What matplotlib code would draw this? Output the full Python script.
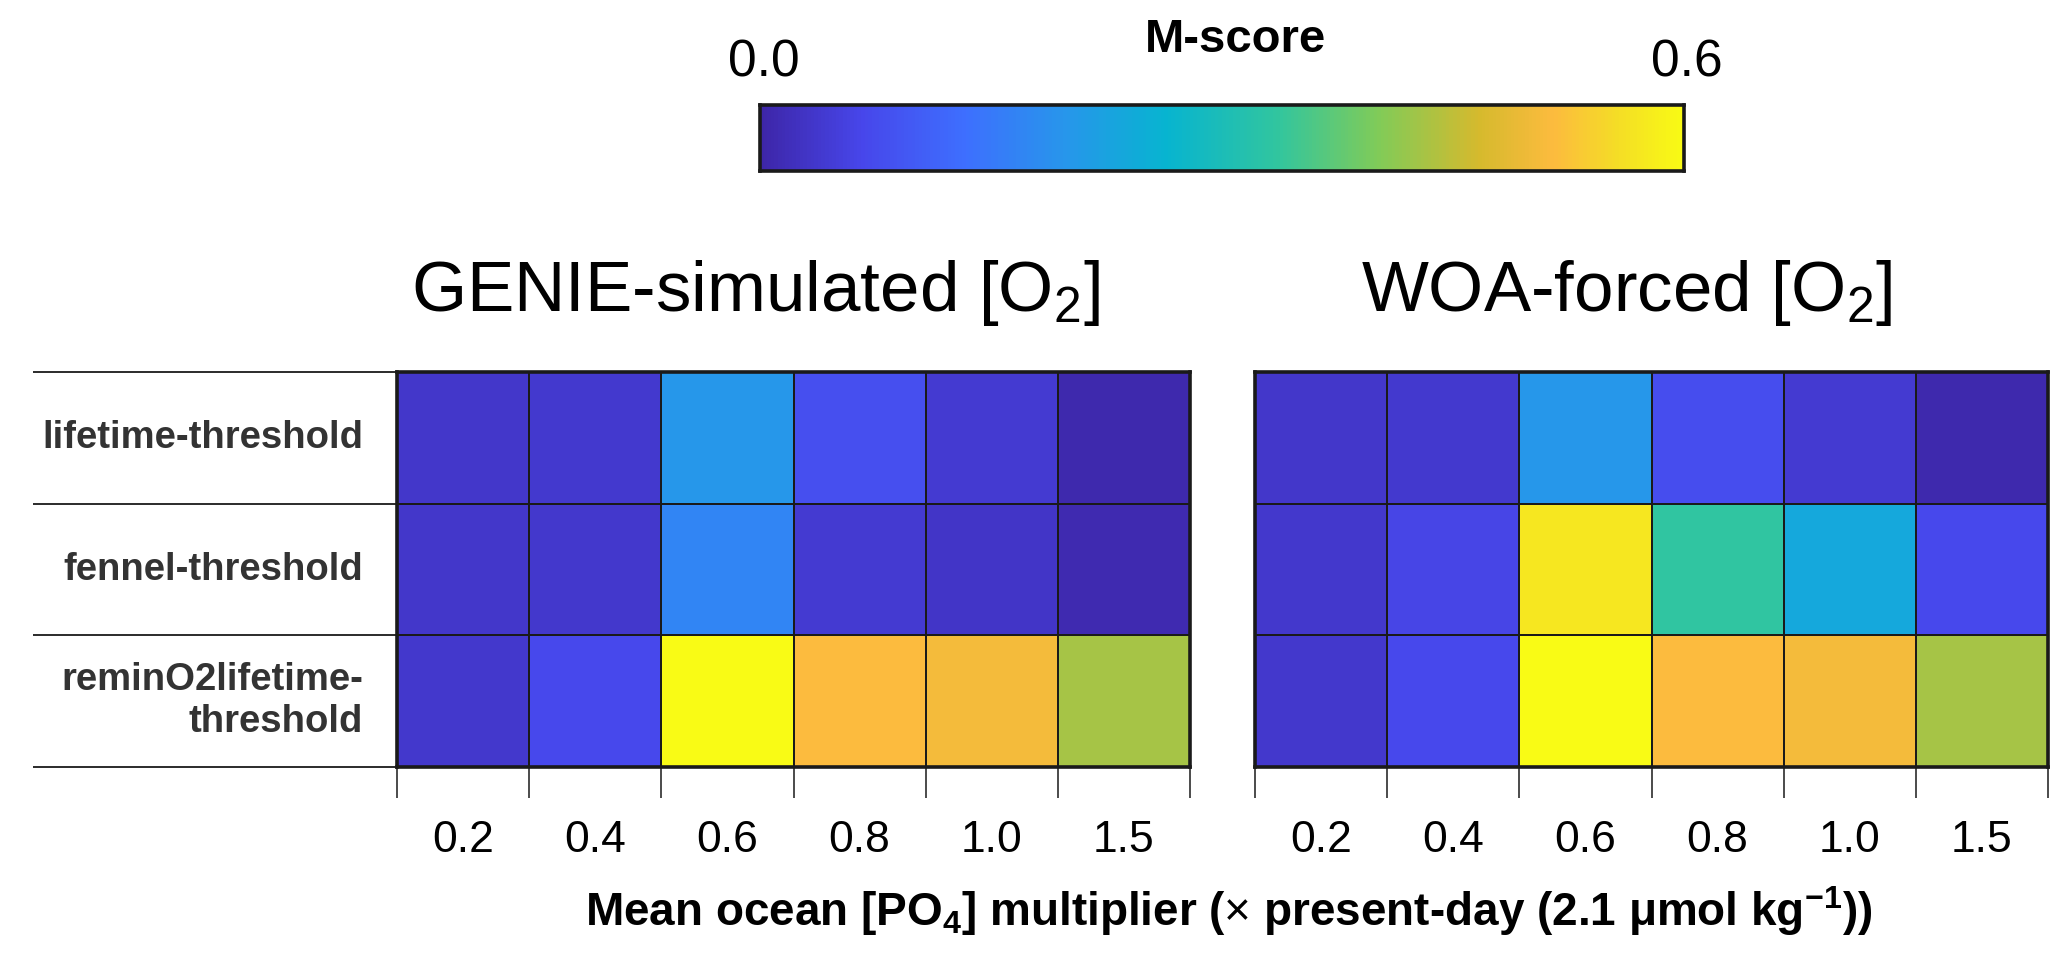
import matplotlib.pyplot as plt
import numpy as np
from matplotlib.colors import LinearSegmentedColormap
import matplotlib.transforms as mtransforms

plt.rcParams['font.family'] = ['Liberation Sans', 'DejaVu Sans']
plt.rcParams['mathtext.fontset'] = 'custom'
plt.rcParams['mathtext.rm'] = 'Liberation Sans'
plt.rcParams['mathtext.bf'] = 'Liberation Sans:bold'

# data
multipliers = ['0.2', '0.4', '0.6', '0.8', '1.0', '1.5']
schemes = ['lifetime-threshold', 'fennel-threshold', 'reminO2lifetime-\nthreshold']
genie = [[0.035, 0.038, 0.20, 0.080, 0.040, 0.006],
         [0.033, 0.036, 0.17, 0.042, 0.032, 0.008],
         [0.036, 0.070, 0.60, 0.515, 0.505, 0.430]]
woa = [[0.035, 0.038, 0.20, 0.075, 0.040, 0.006],
       [0.036, 0.062, 0.57, 0.335, 0.235, 0.070],
       [0.036, 0.068, 0.60, 0.515, 0.505, 0.430]]
vmin, vmax = 0.0, 0.6

# approximate MATLAB parula
parula_pos = [0.0, 0.11, 0.22, 0.33, 0.44, 0.56, 0.67, 0.78, 0.86, 0.93, 1.0]
parula_rgb = [(0.2422, 0.1504, 0.6603), (0.2803, 0.2782, 0.9221),
              (0.2440, 0.4358, 0.9988), (0.1540, 0.5902, 0.9218),
              (0.0297, 0.7082, 0.8163), (0.1938, 0.7758, 0.6251),
              (0.5044, 0.7993, 0.3480), (0.8400, 0.7300, 0.1800),
              (0.9900, 0.7350, 0.2450), (0.9600, 0.8700, 0.1500),
              (0.9769, 0.9839, 0.0805)]
parula = LinearSegmentedColormap.from_list('parula', list(zip(parula_pos, parula_rgb)), N=256)

W, H = 2067, 977
fig = plt.figure(figsize=(W / 100, H / 100), dpi=100)

def fx(px):
    return px / W

def fy(py):
    return 1 - py / H

panels = [(397, genie), (1255, woa)]
axes = []
for left, vals in panels:
    ax = fig.add_axes([fx(left), fy(767), 793 / W, 395 / H])
    ax.pcolormesh(np.array(vals), cmap=parula, vmin=vmin, vmax=vmax,
                  edgecolors='#1a1a1a', linewidth=1.2)
    ax.set_xlim(0, 6)
    ax.set_ylim(3, 0)
    for s in ax.spines.values():
        s.set_linewidth(2.6)
        s.set_color('#1a1a1a')
    ax.set_yticks([])
    ax.set_xticks(np.arange(7))
    ax.set_xticklabels([])
    ax.set_xticks(np.arange(6) + 0.5, minor=True)
    ax.set_xticklabels(multipliers, minor=True, fontsize=32)
    ax.tick_params(axis='x', which='major', direction='out', length=22, width=1.1, color='#1a1a1a')
    ax.tick_params(axis='x', which='minor', length=0, pad=38)
    axes.append(ax)

# row labels and guide lines on the left panel
ax0 = axes[0]
trans = mtransforms.blended_transform_factory(ax0.transAxes, ax0.transData)
ax0.hlines([0, 1, 2, 3], -0.459, 0, transform=trans, clip_on=False,
           color='#1a1a1a', linewidth=1.3)
for i, lab in enumerate(schemes):
    ax0.text(-0.043, i + 0.5, lab, transform=trans, ha='right', va='center',
             fontsize=27.5, fontweight='bold', color='#333333', linespacing=1.2)

# titles
fig.text(fx(755), fy(293), r'GENIE-simulated [O$_2$]', ha='center', va='center', fontsize=51)
fig.text(fx(1627), fy(293), r'WOA-forced [O$_2$]', ha='center', va='center', fontsize=51)

# colorbar
cax = fig.add_axes([fx(760), fy(171), 924 / W, 66 / H])
grad = np.linspace(vmin, vmax, 256).reshape(1, -1)
cax.imshow(grad, aspect='auto', cmap=parula, vmin=vmin, vmax=vmax,
           extent=[vmin, vmax, 0, 1])
cax.set_xticks([])
cax.set_yticks([])
for s in cax.spines.values():
    s.set_linewidth(2.6)
    s.set_color('#1a1a1a')
fig.text(fx(764), fy(63), '0.0', ha='center', va='center', fontsize=37)
fig.text(fx(1687), fy(63), '0.6', ha='center', va='center', fontsize=37)
fig.text(fx(1236), fy(40), 'M-score', ha='center', va='center', fontsize=34, fontweight='bold')

# x label
fig.text(fx(1229), fy(911),
         r'Mean ocean [PO$_\mathbf{4}$] multiplier ($\times$ present-day (2.1 $\mathbf{\mu}$mol kg$^\mathbf{-1}$))',
         ha='center', va='center', fontsize=33, fontweight='bold')

plt.savefig('out.png', dpi=100)
